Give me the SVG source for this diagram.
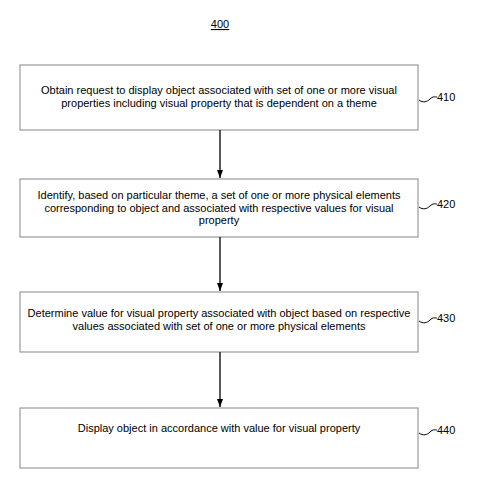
<svg xmlns="http://www.w3.org/2000/svg" width="487" height="492" viewBox="0 0 487 492">
<defs>
<marker id="ah" markerWidth="9" markerHeight="7" refX="8" refY="3" orient="auto" markerUnits="userSpaceOnUse">
<path d="M0,0 L8,3 L0,6 Z" fill="#000"/>
</marker>
<style>
.box{fill:#fff;stroke:#9a9a9a;stroke-width:1.2}
.t{font-family:"Liberation Sans",Arial,sans-serif;font-size:11px;fill:#000;text-anchor:middle}
.lbl{font-family:"Liberation Sans",Arial,sans-serif;font-size:11px;fill:#000}
.sq{fill:none;stroke:#000;stroke-width:1}
.c{stroke:#000;stroke-width:1.3;fill:none;marker-end:url(#ah)}
</style>
</defs>
<rect width="487" height="492" fill="#fff"/>
<g id="title">
<text class="lbl" x="220" y="28" text-anchor="middle" text-decoration="underline">400</text>
</g>
<g id="n410">
<rect class="box" x="20" y="65" width="398" height="65"/>
<text class="t" x="219" y="94">Obtain request to display object associated with set of one or more visual</text>
<text class="t" x="219" y="107">properties including visual property that is dependent on a theme</text>
<path class="sq" d="M419,100 C423,103 427,102 430,99 C433,96 435,97 437,97"/>
<text class="lbl" x="437" y="101">410</text>
</g>
<g id="n420">
<rect class="box" x="20" y="179" width="398" height="58"/>
<text class="t" x="219" y="199">Identify, based on particular theme, a set of one or more physical elements</text>
<text class="t" x="219" y="211.5">corresponding to object and associated with respective values for visual</text>
<text class="t" x="219" y="224">property</text>
<path class="sq" d="M419,207 C423,210 427,209 430,206 C433,203 435,204 437,204"/>
<text class="lbl" x="437" y="208">420</text>
</g>
<g id="n430">
<rect class="box" x="20" y="292" width="398" height="60"/>
<text class="t" x="219" y="317">Determine value for visual property associated with object based on respective</text>
<text class="t" x="219" y="329.5">values associated with set of one or more physical elements</text>
<path class="sq" d="M419,321 C423,324 427,323 430,320 C433,317 435,318 437,318"/>
<text class="lbl" x="437" y="322">430</text>
</g>
<g id="n440">
<rect class="box" x="20" y="408" width="398" height="60"/>
<text class="t" x="219" y="432">Display object in accordance with value for visual property</text>
<path class="sq" d="M419,433 C423,436 427,435 430,432 C433,429 435,430 437,430"/>
<text class="lbl" x="437" y="434">440</text>
</g>
<g id="connectors">
<line class="c" x1="220" y1="130" x2="220" y2="178"/>
<line class="c" x1="220" y1="237" x2="220" y2="291"/>
<line class="c" x1="220" y1="352" x2="220" y2="407"/>
</g>
</svg>
